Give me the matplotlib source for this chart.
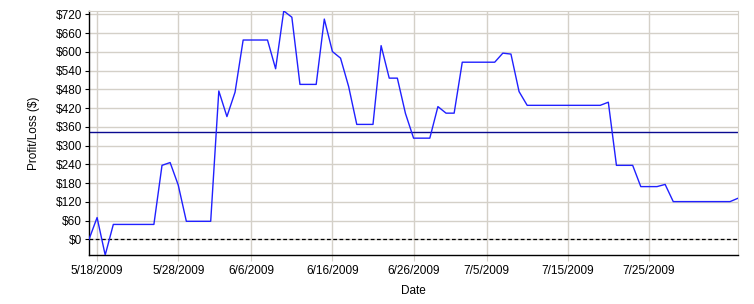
import matplotlib
matplotlib.use('Agg')
import matplotlib.pyplot as plt
import matplotlib.ticker as mticker
import pandas as pd

matplotlib.rcParams.update({'font.family': ['Liberation Sans', 'DejaVu Sans'], 'font.size': 8.5})

# ! -------------
# ! Data (daily profit/loss, 5/17/2009 - 8/5/2009)
start_date = '2009-05-17'
pnl_may = [0, 70, -50, 48, 48, 48, 48, 48, 48, 237, 246, 174, 58, 58, 58]
pnl_jun = [58, 475, 393, 471, 638, 638, 638, 638, 546, 731, 711, 496, 496, 496, 705,
           601, 580, 489, 368, 368, 368, 620, 516, 516, 403, 324, 324, 324, 425, 404]
pnl_jul = [404, 567, 567, 567, 567, 567, 596, 593, 473, 429,
           429, 429, 429, 429, 429, 429, 429, 429, 429, 439,
           237, 237, 237, 169, 169, 169, 176, 121, 121, 121, 121]
pnl_aug = [121, 121, 121, 121, 132]
pnl = pnl_may + pnl_jun + pnl_jul + pnl_aug
dates = pd.date_range(start_date, periods=len(pnl), freq='D')

mean_level = 345
tick_dates = ['2009-05-18', '2009-05-28', '2009-06-06', '2009-06-16',
              '2009-06-26', '2009-07-05', '2009-07-15', '2009-07-25']
tick_labels = ['5/18/2009', '5/28/2009', '6/6/2009', '6/16/2009',
               '6/26/2009', '7/5/2009', '7/15/2009', '7/25/2009']
y_ticks = list(range(0, 721, 60))

# ! -------------
# ! Plot
fig = plt.figure(figsize=(7.54, 3.04), dpi=100)
ax = fig.add_axes([0.118, 0.161, 0.861, 0.803])

grid_col = '#d4d0c8'
ax.plot(dates, pnl, color='#2020ff', lw=1.0, zorder=3)
ax.axhline(mean_level, color='#0a0a90', lw=1.0, zorder=2)
ax.axhline(0, color='black', lw=0.9, ls=(0, (3, 2)), zorder=2)

ax.set_xlim(dates[0], dates[-1])
ax.set_ylim(min(pnl), max(pnl))
ax.set_xticks(pd.to_datetime(tick_dates))
ax.set_xticklabels(tick_labels)
ax.set_yticks(y_ticks)
ax.yaxis.set_major_formatter(mticker.FuncFormatter(lambda v, p: f'${int(v)}'))
ax.grid(True, color=grid_col, lw=1.0, zorder=0)
ax.set_axisbelow(True)

for s in ['top', 'right']:
    ax.spines[s].set_color(grid_col)
for s in ['left', 'bottom']:
    ax.spines[s].set_color('black')
    ax.spines[s].set_linewidth(1.0)
ax.tick_params(axis='x', length=4, color=grid_col, pad=3)
ax.tick_params(axis='y', length=3, color='black', pad=2)

ax.set_xlabel('Date', labelpad=6)
ax.set_ylabel('Profit/Loss ($)', labelpad=11)

plt.savefig('out.png', dpi=100)
